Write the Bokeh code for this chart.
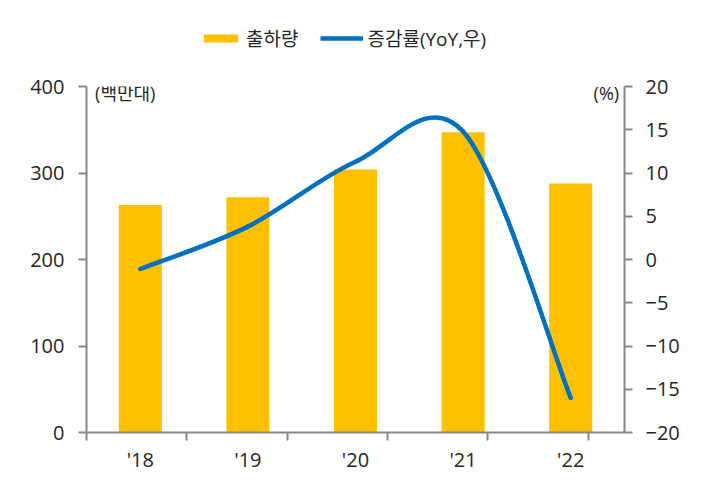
import numpy as np
from bokeh.plotting import figure
from bokeh.layouts import column
from bokeh.models import (Range1d, LinearAxis, FixedTicker, Legend, LegendItem, Label)
from bokeh.embed import file_html
from bokeh.resources import INLINE

years = ["'18", "'19", "'20", "'21", "'22"]
shipments = [263, 272, 304, 347, 288]          # 출하량 (백만대)
yoy = [-1.1, 3.8, 11.3, 14.8, -16.0]           # 증감률 (YoY, %)
left_ticks = [0, 100, 200, 300, 400]
right_ticks = [-20, -15, -10, -5, 0, 5, 10, 15, 20]
series_names = ["출하량", "증감률(YoY,우)"]

FONT = "Open Sans, Noto Sans CJK KR"
NUMFONT = "Open Sans"
TXT = "#262626"
AX = "#878787"
BAR = "#FFC000"
LINE = "#0070C0"

W = 689
TOP_H = 70

xs = list(range(len(years)))

# ---------- legend strip (same series, drawn off-range so only the legend shows) ----------
lg = figure(width=W, height=TOP_H, output_backend="svg", toolbar_location=None,
            x_range=Range1d(100, 101), y_range=Range1d(1000, 1001),
            min_border_left=0, min_border_right=0, min_border_top=0, min_border_bottom=0)
lg.axis.visible = False
lg.xgrid.visible = False
lg.ygrid.visible = False
lg.outline_line_color = None
lb = lg.vbar(x=xs, top=shipments, width=0.4, color=BAR, line_color=None)
ll = lg.line(x=xs, y=yoy, line_color=LINE, line_width=4.5)
legend = Legend(items=[LegendItem(label=series_names[0], renderers=[lb]),
                       LegendItem(label=series_names[1], renderers=[ll])],
                orientation="horizontal", location=(113, 18),
                label_text_font=FONT, label_text_font_size="19px",
                label_text_color=TXT, glyph_width=43, glyph_height=10,
                label_standoff=4, spacing=22, padding=0, margin=0,
                border_line_color=None, background_fill_alpha=0)
lg.add_layout(legend)

# ---------- main chart ----------
p = figure(width=W, height=475 - TOP_H, output_backend="svg", toolbar_location=None,
           x_range=Range1d(-0.5, len(years) - 0.5), y_range=Range1d(0, 400),
           min_border_left=86, min_border_right=W - 624, min_border_top=86 - TOP_H,
           min_border_bottom=38)
p.extra_y_ranges = {"right": Range1d(-20, 20)}
p.xgrid.visible = False
p.ygrid.visible = False
p.outline_line_color = None

bars = p.vbar(x=xs, top=shipments, width=0.4, color=BAR, line_color=None)

# smooth curve (Catmull-Rom -> cubic bezier) through the YoY points
px = np.array(xs, dtype=float)
py = np.array(yoy, dtype=float)
n = len(px)
tx = np.zeros(n); ty = np.zeros(n)
for i in range(n):
    a = max(i - 1, 0); b = min(i + 1, n - 1)
    tx[i] = (px[b] - px[a]) / 2.0
    ty[i] = (py[b] - py[a]) / 2.0
x0 = px[:-1]; y0 = py[:-1]; x1 = px[1:]; y1 = py[1:]
cx0 = x0 + tx[:-1] / 3.0; cy0 = y0 + ty[:-1] / 3.0
cx1 = x1 - tx[1:] / 3.0; cy1 = y1 - ty[1:] / 3.0
curve = p.bezier(x0=x0, y0=y0, x1=x1, y1=y1, cx0=cx0, cy0=cy0, cx1=cx1, cy1=cy1,
                 line_color=LINE, line_width=4.5, line_cap="round",
                 y_range_name="right")

# x axis
xa = p.xaxis[0]
xa.ticker = FixedTicker(ticks=xs, minor_ticks=[-0.5, 0.43, 1.37, 2.3, 3.23, 4.17])
xa.major_label_overrides = {i: y for i, y in zip(xs, years)}
xa.major_tick_line_color = None
xa.minor_tick_line_color = AX
xa.minor_tick_line_width = 2
xa.minor_tick_out = 8
xa.minor_tick_in = 0
xa.major_label_standoff = 5

# left axis
ya = p.yaxis[0]
ya.ticker = FixedTicker(ticks=left_ticks)
ya.minor_tick_line_color = None
ya.major_tick_in = 0
ya.major_tick_out = 8
ya.major_label_standoff = 14

ra = LinearAxis(y_range_name="right", ticker=FixedTicker(ticks=right_ticks))
ra.minor_tick_line_color = None
ra.major_tick_in = 0
ra.major_tick_out = 8
ra.major_label_standoff = 13
p.add_layout(ra, "right")

for ax in [xa, ya, ra]:
    ax.axis_line_color = AX
    ax.axis_line_width = 2
    ax.major_tick_line_width = 2
    if ax is not xa:
        ax.major_tick_line_color = AX
    ax.major_label_text_font = NUMFONT
    ax.major_label_text_font_size = "20px"
    ax.major_label_text_color = TXT

p.add_layout(Label(x=-0.42, y=400, text="(백만대)", text_baseline="top",
                   text_font=FONT, text_font_size="18px", text_color=TXT, y_offset=6))
p.add_layout(Label(x=4.45, y=400, text="(%)", text_baseline="top", text_align="right",
                   text_font=FONT, text_font_size="18px", text_color=TXT, y_offset=6))

layout = column(lg, p, spacing=0)
open("out.html", "w").write(file_html(layout, INLINE))
